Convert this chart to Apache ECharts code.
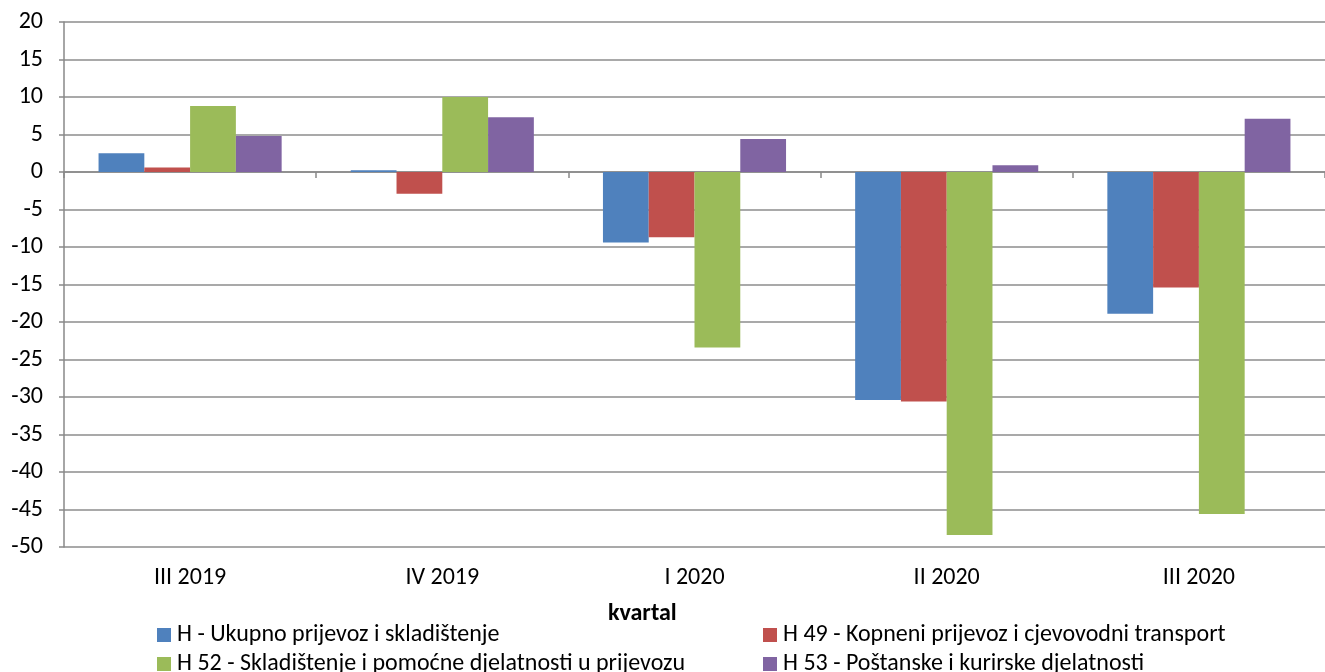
<!DOCTYPE html>
<html>
<head>
<meta charset="utf-8">
<script src="https://cdn.jsdelivr.net/npm/echarts@6/dist/echarts.min.js"></script>
<style>
html,body{margin:0;padding:0;background:#fff;}
#chart{width:1325px;height:672px;}
</style>
</head>
<body>
<div id="chart"></div>
<script>
const categories = ['III 2019', 'IV 2019', 'I 2020', 'II 2020', 'III 2020'];
const seriesNames = [
  'H - Ukupno prijevoz i skladištenje',
  'H 49 - Kopneni prijevoz i cjevovodni transport',
  'H 52 - Skladištenje i pomoćne djelatnosti u prijevozu',
  'H 53 - Poštanske i kurirske djelatnosti'
];
const hTotal = [2.5, 0.25, -9.4, -30.4, -18.9];
const h49 = [0.6, -2.9, -8.7, -30.6, -15.4];
const h52 = [8.8, 10.0, -23.4, -48.4, -45.6];
const h53 = [4.8, 7.3, 4.4, 0.9, 7.1];
const yTicks = {min: -50, max: 20, interval: 5};
const axisName = 'kvartal';

const colors = ['#4F81BD', '#C0504D', '#9BBB59', '#8064A2'];
const FONT = "Carlito, 'Liberation Sans', Arial, sans-serif";
const FS = 24;
const values = [hTotal, h49, h52, h53];

const chart = echarts.init(document.getElementById('chart'), null, {renderer: 'canvas'});

const legendPos = [[152, 618], [758, 618], [152, 647], [758, 647]];

chart.setOption({
  animation: false,
  backgroundColor: '#ffffff',
  color: colors,
  textStyle: {fontFamily: FONT},
  title: {
    text: axisName,
    left: 603, top: 597,
    textStyle: {fontFamily: FONT, fontSize: FS, fontWeight: 'bold', color: '#000'}
  },
  grid: {left: 64, right: -6, top: 22, bottom: 125, containLabel: false},
  legend: seriesNames.map((n, i) => ({
    data: [n],
    left: legendPos[i][0], top: legendPos[i][1],
    icon: 'rect', itemWidth: 14, itemHeight: 14, itemGap: 0,
    textStyle: {fontFamily: FONT, fontSize: FS, color: '#000', padding: [0, 0, 0, 1]}
  })),
  xAxis: [
    {
      type: 'category', data: categories, position: 'bottom',
      axisLine: {show: false, onZero: false},
      axisTick: {show: false},
      axisLabel: {fontFamily: FONT, fontSize: FS, color: '#000', margin: 19}
    },
    {
      type: 'category', data: categories, position: 'top',
      axisLine: {show: true, onZero: true, lineStyle: {color: '#898989', width: 1.5}},
      axisTick: {show: true, inside: true, length: 6, lineStyle: {color: '#898989', width: 1.5}},
      axisLabel: {show: false}
    }
  ],
  yAxis: {
    type: 'value', min: yTicks.min, max: yTicks.max, interval: yTicks.interval,
    axisLine: {show: true, lineStyle: {color: '#898989', width: 1.5}},
    axisTick: {show: true, length: 5, lineStyle: {color: '#898989', width: 1.5}},
    axisLabel: {fontFamily: FONT, fontSize: FS, color: '#000', margin: 21},
    splitLine: {show: true, lineStyle: {color: '#8c8c8c', width: 1.5}}
  },
  series: seriesNames.map((n, i) => ({
    name: n, type: 'bar', xAxisIndex: 0, data: values[i],
    barGap: '0%', barCategoryGap: '27.4%', z: 3,
    itemStyle: {color: colors[i]}
  }))
});
</script>
</body>
</html>
